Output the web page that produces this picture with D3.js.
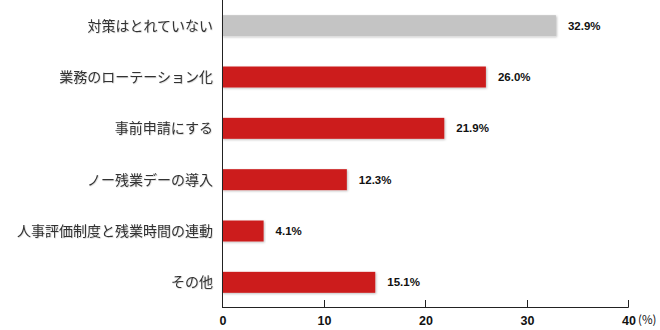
<!DOCTYPE html>
<html><head><meta charset="utf-8">
<script src="https://cdn.jsdelivr.net/npm/d3@7"></script>
<style>body{margin:0;background:#fff}svg{display:block}</style>
</head><body>
<svg id="c" width="660" height="330"></svg>
<script>
const categories = ["対策はとれていない","業務のローテーション化","事前申請にする","ノー残業デーの導入","人事評価制度と残業時間の連動","その他"];
const values = [32.9, 26.0, 21.9, 12.3, 4.1, 15.1];
const highlight = [true, false, false, false, false, false];
const tickValues = [0, 10, 20, 30, 40];

const svg = d3.select("#c");
const x = d3.scaleLinear().domain([0, 40]).range([222, 628]);
const y = d3.scaleBand().domain(categories).range([0, 308]).padding(0);
const bh = 21;

const defs = svg.append("defs");
const f = defs.append("filter").attr("id","sh").attr("x","-5%").attr("y","-20%").attr("width","110%").attr("height","160%");
f.append("feDropShadow").attr("dx",1).attr("dy",1).attr("stdDeviation",0.8).attr("flood-color","#000").attr("flood-opacity",0.25);
const f2 = defs.append("filter").attr("id","tsh").attr("x","-5%").attr("y","-20%").attr("width","110%").attr("height","160%");
f2.append("feDropShadow").attr("dx",0.6).attr("dy",0.6).attr("stdDeviation",0.5).attr("flood-color","#000").attr("flood-opacity",0.2);

svg.selectAll("rect.bar").data(values).join("rect")
  .attr("class","bar")
  .attr("x", x(0))
  .attr("y", (d,i) => y(categories[i]) + y.bandwidth()/2 - bh/2)
  .attr("width", d => x(d) - x(0))
  .attr("height", bh)
  .attr("fill", (d,i) => highlight[i] ? "#c4c4c4" : "#cc1f1f")
  .attr("filter","url(#sh)");

svg.selectAll("text.val").data(values).join("text")
  .attr("class","val")
  .attr("x", d => x(d) + 12)
  .attr("y", (d,i) => y(categories[i]) + y.bandwidth()/2 + 4)
  .attr("font-family","Liberation Sans, Arial, sans-serif")
  .attr("font-weight","bold").attr("font-size","11.5px").attr("fill","#111")
  .text(d => d.toFixed(1) + "%");

svg.selectAll("text.cat").data(categories).join("text")
  .attr("class","cat")
  .attr("x", 213)
  .attr("y", d => y(d) + y.bandwidth()/2 + 5)
  .attr("text-anchor","end")
  .attr("font-family","Noto Sans CJK JP, sans-serif")
  .attr("font-size","14px").attr("fill","#333")
  .attr("filter","url(#tsh)")
  .text(d => d);

// axes
svg.append("line").attr("x1", x(0)+0.5).attr("x2", x(0)+0.5).attr("y1", 0).attr("y2", 307.5)
  .attr("stroke","#222").attr("stroke-width",1);
svg.append("line").attr("x1", x(0)).attr("x2", x(40)+0.5).attr("y1", 307.5).attr("y2", 307.5)
  .attr("stroke","#222").attr("stroke-width",1);
svg.selectAll("line.tick").data(tickValues.slice(1)).join("line")
  .attr("class","tick")
  .attr("x1", d => Math.round(x(d))+0.5).attr("x2", d => Math.round(x(d))+0.5)
  .attr("y1", 300).attr("y2", 307.5).attr("stroke","#222");
svg.selectAll("text.tl").data(tickValues).join("text")
  .attr("class","tl")
  .attr("x", d => x(d) + 1)
  .attr("y", 325)
  .attr("text-anchor","middle")
  .attr("font-family","Liberation Sans, Arial, sans-serif")
  .attr("font-weight","bold").attr("font-size","12.5px").attr("fill","#111")
  .text(d => d);
svg.append("text").attr("x", 638).attr("y", 324)
  .attr("font-family","Noto Sans CJK JP, sans-serif")
  .attr("font-size","11.5px").attr("fill","#111").text("(%)");
</script>
</body></html>
